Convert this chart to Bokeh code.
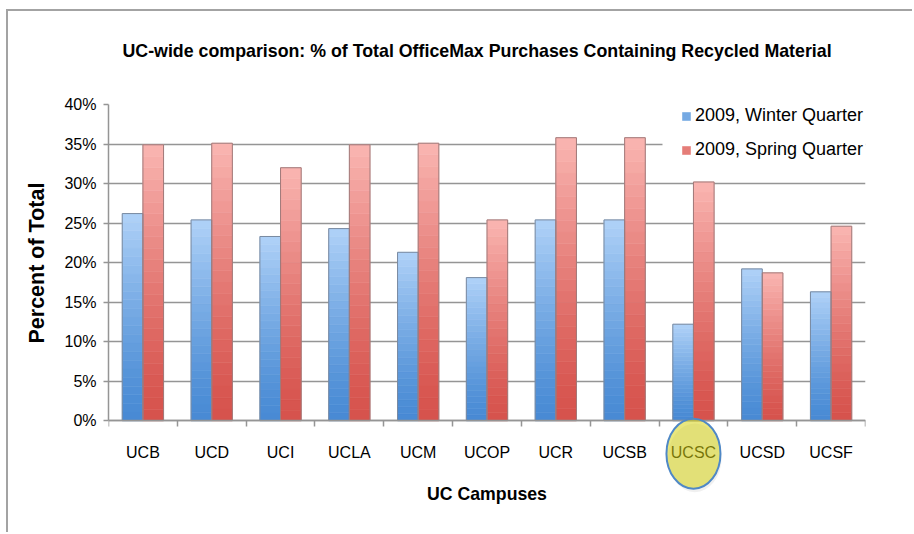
import numpy as np
from bokeh.plotting import figure
from bokeh.models import (ColumnDataSource, FixedTicker, NumeralTickFormatter, Legend,
                          LegendItem, BoxAnnotation, Range1d, Title)
from bokeh.embed import file_html
from bokeh.resources import INLINE

# ---------------- data ----------------
campuses = ["UCB", "UCD", "UCI", "UCLA", "UCM", "UCOP", "UCR", "UCSB", "UCSC", "UCSD", "UCSF"]
winter_2009 = [0.262, 0.254, 0.233, 0.243, 0.213, 0.181, 0.254, 0.254, 0.122, 0.192, 0.163]
spring_2009 = [0.349, 0.351, 0.320, 0.349, 0.351, 0.254, 0.358, 0.358, 0.302, 0.187, 0.246]
series_names = ["2009, Winter Quarter", "2009, Spring Quarter"]
y_ticks = [0.0, 0.05, 0.10, 0.15, 0.20, 0.25, 0.30, 0.35, 0.40]
highlight = "UCSC"
title_text = "UC-wide comparison: % of Total OfficeMax Purchases Containing Recycled Material"
x_title = "UC Campuses"
y_title = "Percent of Total"

SANS = "Liberation Sans"
GRID = "#959595"

W, H = 906, 523
p = figure(width=W, height=H, output_backend="svg", toolbar_location=None,
           x_range=Range1d(-0.5, len(campuses) - 0.5), y_range=Range1d(-0.12, 0.40),
           min_border_left=100, min_border_top=93, min_border_right=49, min_border_bottom=19,
           title=title_text)
p.styles = {"margin-left": "6px", "margin-top": "9px",
            "border-left": "2px solid #a3a3a3", "border-top": "2px solid #a3a3a3"}
p.outline_line_color = None
p.background_fill_color = "white"
p.border_fill_color = "white"

p.title.align = "left"
p.title.offset = 14
p.title.text_font = SANS
p.title.text_font_size = "17.8px"
p.title.text_font_style = "bold"
p.title.text_color = "black"
p.title.padding = dict(left=0, right=0, top=0, bottom=39)


def gradient_source(values, offset, c_top, c_bot, n=24):
    xs, bots, tops, cols = [], [], [], []
    for i, v in enumerate(values):
        for k in range(n):
            t = ((k + 0.5) / n) ** 1.3
            col = tuple(int(round(c_bot[j] + (c_top[j] - c_bot[j]) * t)) for j in range(3))
            xs.append(i + offset)
            bots.append(v * k / n)
            tops.append(v * (k + 1) / n)
            cols.append("#%02x%02x%02x" % col)
    return ColumnDataSource(dict(x=xs, bottom=bots, top=tops, color=cols))


N = 24
bw = 0.30
src_w = gradient_source(winter_2009, -0.15, (176, 210, 248), (72, 138, 212), N)
src_s = gradient_source(spring_2009, 0.15, (250, 182, 178), (214, 82, 76), N)

r_w = p.vbar(x="x", bottom="bottom", top="top", width=bw, source=src_w,
             fill_color="color", line_color="color", line_width=0.6)
r_s = p.vbar(x="x", bottom="bottom", top="top", width=bw, source=src_s,
             fill_color="color", line_color="color", line_width=0.6)

xi = np.arange(len(campuses))
p.vbar(x=xi - 0.15, top=winter_2009, width=bw, fill_color=None, line_color="#7a8aa0", line_width=1)
p.vbar(x=xi + 0.15, top=spring_2009, width=bw, fill_color=None, line_color="#a07a7a", line_width=1)

# ---------------- axes ----------------
p.xaxis.fixed_location = 0
p.xaxis.ticker = FixedTicker(ticks=list(range(len(campuses))),
                             minor_ticks=[i - 0.5 for i in range(len(campuses) + 1)])
p.xaxis.major_label_overrides = {i: c for i, c in enumerate(campuses)}
p.xaxis.major_tick_line_color = None
p.xaxis.major_tick_out = 0
p.xaxis.major_tick_in = 0
p.xaxis.minor_tick_line_color = GRID
p.xaxis.minor_tick_line_width = 1.5
p.xaxis.minor_tick_out = 6
p.xaxis.minor_tick_in = 0
p.xaxis.major_label_standoff = 17
p.xaxis.major_label_text_font = SANS
p.xaxis.major_label_text_font_size = "16px"
p.xaxis.major_label_text_color = "black"
p.xaxis.axis_line_color = GRID
p.xaxis.axis_line_width = 1.5
p.xaxis.axis_label = x_title
p.xaxis.axis_label_text_font = SANS
p.xaxis.axis_label_text_font_size = "17.7px"
p.xaxis.axis_label_text_font_style = "bold"
p.xaxis.axis_label_text_color = "black"
p.xaxis.axis_label_standoff = 20

p.yaxis.bounds = (0, 0.40)
p.yaxis.ticker = FixedTicker(ticks=y_ticks)
p.yaxis.formatter = NumeralTickFormatter(format="0%")
p.yaxis.major_tick_line_color = GRID
p.yaxis.major_tick_line_width = 1.5
p.yaxis.major_tick_out = 5
p.yaxis.major_tick_in = 0
p.yaxis.minor_tick_line_color = None
p.yaxis.major_label_standoff = 7
p.yaxis.major_label_text_font = SANS
p.yaxis.major_label_text_font_size = "16px"
p.yaxis.major_label_text_color = "black"
p.yaxis.axis_line_color = GRID
p.yaxis.axis_line_width = 1.5

# y-axis title, positioned along the bounded (0-40%) part of the axis
p.add_layout(Title(text=y_title, align="left", offset=172, text_font=SANS,
                   text_font_size="21.5px", text_font_style="bold", text_color="black",
                   padding=dict(left=0, right=0, top=0, bottom=8)), "left")

p.xgrid.grid_line_color = None
p.ygrid.ticker = FixedTicker(ticks=y_ticks)
p.ygrid.grid_line_color = GRID
p.ygrid.grid_line_width = 1.5

# white area behind the legend (covers top gridlines)
p.add_layout(BoxAnnotation(left=7.55, right=len(campuses), bottom=0.335, top=0.45,
                           fill_color="white", fill_alpha=1, line_color=None, level="underlay"))

# ---------------- legend ----------------
legend = Legend(items=[LegendItem(label=series_names[0], renderers=[r_w], index=N // 2),
                       LegendItem(label=series_names[1], renderers=[r_s], index=N // 2)],
                location=(573, 355), padding=8, spacing=13, margin=0,
                label_height=20, glyph_height=10, glyph_width=10, label_standoff=4,
                border_line_color=None, background_fill_color="white", background_fill_alpha=1,
                label_text_font=SANS, label_text_font_size="18px",
                label_text_color="black")
p.add_layout(legend)

# ---------------- highlight ellipse around the UCSC label ----------------
hx = campuses.index(highlight)
shadow = p.ellipse(x=[hx + 0.02], y=[-0.047], width=0.78, height=0.087,
                   fill_color="#808080", fill_alpha=0.12, line_color=None)
ell = p.ellipse(x=[hx], y=[-0.0418], width=0.785, height=0.0886,
                fill_color="#d7d414", fill_alpha=0.55, line_color="#4f88c6", line_width=2)
ell.level = "overlay"

open("out.html", "w").write(file_html(p, INLINE))
